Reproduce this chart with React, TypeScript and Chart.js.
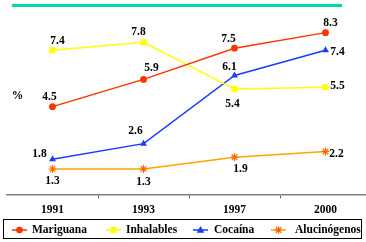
import React, { useEffect, useRef } from "react";
import { Chart, registerables } from "chart.js";

Chart.register(...registerables);

const years = ["1991", "1993", "1997", "2000"];
const mariguana = [4.5, 5.9, 7.5, 8.3];
const inhalables = [7.4, 7.8, 5.4, 5.5];
const cocaina = [1.8, 2.6, 6.1, 7.4];
const alucinogenos = [1.3, 1.3, 1.9, 2.2];
const seriesNames = ["Mariguana", "Inhalables", "Cocaína", "Alucinógenos"];

const FONT = "'Liberation Serif', 'Times New Roman', serif";

// label offsets (dx, dy) relative to each point
const labelOffsets = [
  [[-3, -10], [8, -11], [-6, -9], [5, -10]],
  [[5, -9], [-5, -10], [-2, 15], [12, -1]],
  [[-13, -5], [-8, -13], [-5, -8], [12, 2]],
  [[0, 12], [0, 13], [6, 12], [11, 3]],
];

function drawMarker(ctx: CanvasRenderingContext2D, style: string, x: number, y: number, color: string, border: string) {
  ctx.save();
  ctx.fillStyle = color;
  ctx.strokeStyle = border;
  ctx.beginPath();
  if (style === "circle") {
    ctx.arc(x, y, 3.3, 0, Math.PI * 2);
    ctx.fill();
  } else if (style === "rect") {
    ctx.rect(x - 3, y - 3, 6, 6);
    ctx.fill();
  } else if (style === "triangle") {
    ctx.moveTo(x, y - 4);
    ctx.lineTo(x + 3.8, y + 2.8);
    ctx.lineTo(x - 3.8, y + 2.8);
    ctx.closePath();
    ctx.fill();
  } else {
    ctx.lineWidth = 1.2;
    const r = 3.8;
    ctx.moveTo(x - r, y);
    ctx.lineTo(x + r, y);
    ctx.moveTo(x, y - r);
    ctx.lineTo(x, y + r);
    const d = r * 0.72;
    ctx.moveTo(x - d, y - d);
    ctx.lineTo(x + d, y + d);
    ctx.moveTo(x - d, y + d);
    ctx.lineTo(x + d, y - d);
    ctx.stroke();
  }
  ctx.restore();
}

const decorPlugin = {
  id: "decor",
  afterDatasetsDraw(chart: any) {
    const ctx: CanvasRenderingContext2D = chart.ctx;
    ctx.save();
    // top teal rule
    ctx.fillStyle = "#00D8A8";
    ctx.fillRect(12, 4, 330, 3);
    // % label
    ctx.fillStyle = "#000";
    ctx.font = `bold 11.5px ${FONT}`;
    ctx.textAlign = "center";
    ctx.textBaseline = "middle";
    ctx.fillText("%", 17.5, 96);
    // data labels
    chart.data.datasets.forEach((ds: any, di: number) => {
      const meta = chart.getDatasetMeta(di);
      meta.data.forEach((pt: any, i: number) => {
        const [dx, dy] = labelOffsets[di][i];
        ctx.fillText(String(ds.data[i]), pt.x + dx, pt.y + dy);
      });
    });
    // legend
    ctx.strokeStyle = "#000";
    ctx.lineWidth = 1;
    ctx.strokeRect(3.5, 219.5, 358, 19);
    const items = [
      { lx: 12, tx: 32 },
      { lx: 106, tx: 126 },
      { lx: 193, tx: 214 },
      { lx: 271, tx: 295 },
    ];
    ctx.textAlign = "left";
    chart.data.datasets.forEach((ds: any, di: number) => {
      const it = items[di];
      const y = 230;
      ctx.strokeStyle = ds.borderColor;
      ctx.lineWidth = 1.5;
      ctx.beginPath();
      ctx.moveTo(it.lx, y);
      ctx.lineTo(it.lx + 15, y);
      ctx.stroke();
      drawMarker(ctx, ds.pointStyle, it.lx + 7.5, y, ds.pointBackgroundColor, ds.pointBorderColor);
      ctx.fillStyle = "#000";
      ctx.fillText(seriesNames[di], it.tx, y + 0.5);
    });
    ctx.restore();
  },
};

export default function App() {
  const ref = useRef<HTMLCanvasElement | null>(null);
  useEffect(() => {
    if (!ref.current) return;
    const mk = (label: string, data: number[], color: string, ps: string, pbg: string, pbc: string, radius: number) => ({
      label,
      data,
      borderColor: color,
      backgroundColor: color,
      borderWidth: 1.5,
      pointStyle: ps,
      pointRadius: radius,
      pointBackgroundColor: pbg,
      pointBorderColor: pbc,
      pointBorderWidth: ps === "star" ? 1.2 : 0,
      tension: 0,
    });
    const chart = new Chart(ref.current, {
      type: "line",
      data: {
        labels: years,
        datasets: [
          mk(seriesNames[0], mariguana, "#FF3300", "circle", "#FF3300", "#FF3300", 3.4),
          mk(seriesNames[1], inhalables, "#FFFF00", "rect", "#FFFF00", "#FFFF00", 4.3),
          mk(seriesNames[2], cocaina, "#1A3CFF", "triangle", "#1A3CFF", "#1A3CFF", 4),
          mk(seriesNames[3], alucinogenos, "#FFA500", "star", "#FF6600", "#FF6600", 4),
        ] as any,
      },
      options: {
        responsive: false,
        animation: false,
        layout: { padding: { left: 7, right: 9, top: 19, bottom: 0 } },
        plugins: { legend: { display: false }, tooltip: { enabled: false } },
        scales: {
          x: {
            offset: true,
            grid: {
              offset: true,
              drawOnChartArea: false,
              tickLength: 4,
              lineWidth: 1,
              color: (c: any) => (c.type === "tick" && c.index > 0 ? "#606060" : "rgba(0,0,0,0)"),
            },
            border: { display: true, color: "#808080", width: 1.5 },
            ticks: { color: "#000", font: { family: FONT, weight: "bold", size: 11.5 }, padding: 5 },
            afterFit: (s: any) => {
              s.height = 242 - 194.3;
            },
          },
          y: {
            display: false,
            min: 0,
            max: 9,
          },
        },
      },
      plugins: [decorPlugin],
    });
    return () => chart.destroy();
  }, []);
  return (
    <div style={{ position: "fixed", left: 0, top: 0, width: 366, height: 242, overflow: "hidden", background: "#fff" }}>
      <canvas ref={ref} width={380} height={242} style={{ width: 380, height: 242, display: "block" }} />
    </div>
  );
}
